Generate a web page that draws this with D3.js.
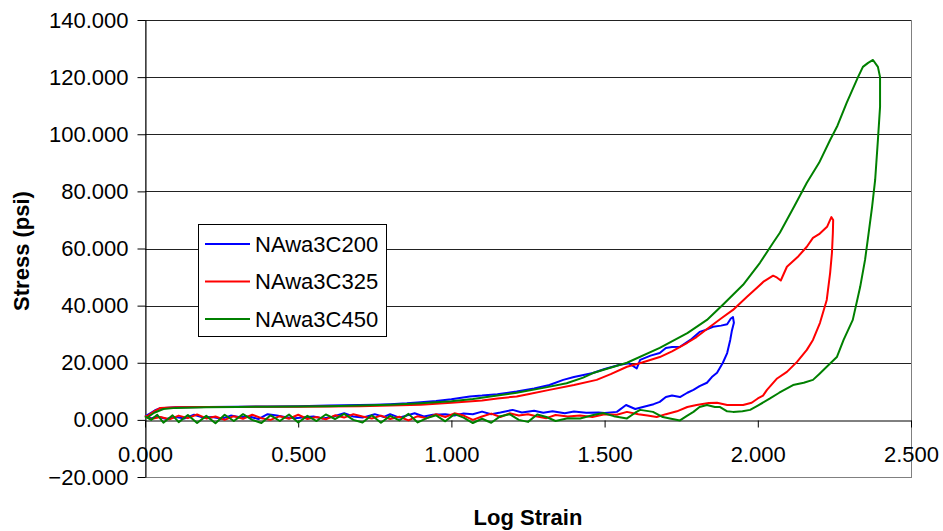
<!DOCTYPE html>
<html>
<head>
<meta charset="utf-8">
<script src="https://cdn.jsdelivr.net/npm/d3@7"></script>
<style>
body { margin: 0; background: #fff; }
#chart text { font-family: Arial, "Liberation Sans", sans-serif; }
</style>
</head>
<body>
<div id="chart"></div>
<script>
// series names, in legend order
var seriesNames = ["NAwa3C200", "NAwa3C325", "NAwa3C450"];
var seriesColors = ["#0000ff", "#ff0000", "#008000"];

// [log strain, stress], traced round each loop
var c200Points = [
	[0,1.5],[0.02,0.5],[0.04,1.2],[0.07,0.3],[0.10,1.0],[0.13,0.5],[0.16,1.8],[0.19,0.8],[0.22,1.0],[0.25,0.4],
	[0.28,1.5],[0.31,0.9],[0.34,1.2],[0.37,0.3],[0.40,2.0],[0.43,1.5],[0.46,0.9],[0.49,0.6],[0.52,0.9],[0.55,1.2],
	[0.58,0.5],[0.61,1.0],[0.65,2.3],[0.68,1.2],[0.71,0.8],[0.75,2.0],[0.78,1.0],[0.80,2.0],[0.83,0.8],[0.88,2.3],
	[0.91,1.2],[0.94,1.8],[0.98,2.0],[1.01,1.5],[1.04,2.2],[1.07,2.0],[1.10,2.9],[1.13,2.0],[1.16,2.6],[1.20,3.5],
	[1.23,2.6],[1.27,3.2],[1.30,2.5],[1.33,3.0],[1.37,2.3],[1.40,2.9],[1.44,2.5],[1.48,2.6],[1.50,2.4],[1.54,2.8],
	[1.57,5.2],[1.60,3.8],[1.625,4.5],[1.66,5.5],[1.68,6.3],[1.70,8.0],[1.72,8.5],[1.746,8.0],[1.77,9.5],[1.79,10.5],
	[1.81,11.8],[1.834,13],[1.85,15],[1.867,16.5],[1.886,20],[1.90,23.4],[1.91,28],[1.915,31],[1.922,34],[1.919,36],
	[1.912,35.5],[1.90,33.5],[1.88,33],[1.854,32.6],[1.83,31.5],[1.81,30.8],[1.78,28],[1.746,25.6],[1.72,25.5],[1.70,25.2],
	[1.68,23.4],[1.65,22.5],[1.616,21],[1.605,18],[1.58,19.8],[1.55,19.3],[1.50,17.8],[1.462,16.4],[1.40,15],[1.365,14],
	[1.32,12.2],[1.27,11],[1.213,9.9],[1.15,9.0],[1.10,8.5],[1.06,8.2],[1.00,7.2],[0.95,6.6],[0.90,6.2],[0.855,5.8],
	[0.80,5.5],[0.75,5.3],[0.70,5.2],[0.60,5.0],[0.50,4.8],[0.40,4.7],[0.30,4.6],[0.20,4.5],[0.10,4.4],[0.05,4.1],
	[0.035,3.5],[0.02,2.5],[0,1.2]
];

var c325Points = [
	[0,1.5],[0.02,0.3],[0.05,1.0],[0.08,0.2],[0.11,1.5],[0.14,0.6],[0.17,1.9],[0.20,0.5],[0.23,1.2],[0.26,0.0],
	[0.29,1.3],[0.32,0.4],[0.35,1.8],[0.38,0.6],[0.41,0.0],[0.44,1.3],[0.47,0.4],[0.50,1.8],[0.53,0.3],[0.56,1.0],
	[0.59,0.2],[0.62,1.6],[0.65,0.8],[0.68,2.0],[0.71,1.2],[0.74,0.5],[0.77,1.5],[0.80,0.3],[0.83,1.1],[0.86,-0.2],
	[0.89,1.3],[0.92,0.6],[0.95,2.0],[0.98,1.0],[1.01,2.3],[1.04,1.5],[1.07,0.0],[1.10,1.2],[1.13,2.2],[1.16,1.0],
	[1.19,2.3],[1.22,1.5],[1.25,2.0],[1.28,1.2],[1.31,0.6],[1.34,1.7],[1.38,1.2],[1.42,1.5],[1.46,1.0],[1.50,2.0],
	[1.54,1.8],[1.573,2.8],[1.61,2.0],[1.64,1.5],[1.67,1.0],[1.70,2.0],[1.736,3.0],[1.77,4.5],[1.80,5.2],[1.84,5.9],
	[1.867,6.0],[1.90,5.2],[1.92,5.2],[1.952,5.2],[1.98,6.0],[2.0,7.5],[2.017,8.5],[2.03,10.5],[2.063,14.5],[2.095,16.8],
	[2.128,20.3],[2.16,24.5],[2.18,28],[2.203,34],[2.225,42],[2.236,51.4],[2.242,58.5],[2.245,65.5],[2.246,70],[2.24,71],
	[2.226,67.6],[2.20,65],[2.18,63.7],[2.16,60.6],[2.13,57],[2.095,53.6],[2.075,48.8],[2.06,50],[2.05,50.5],[2.02,48.5],
	[2.00,46.5],[1.964,43],[1.919,38.5],[1.88,35.5],[1.844,32.6],[1.80,29],[1.77,27],[1.72,24],[1.68,22],[1.62,20],
	[1.573,18.6],[1.52,16],[1.474,14],[1.40,12.2],[1.32,10.5],[1.25,9],[1.213,8.2],[1.15,7.5],[1.10,6.8],[1.0,6.0],
	[0.9,5.3],[0.8,5.0],[0.7,4.8],[0.6,4.7],[0.5,4.6],[0.4,4.6],[0.3,4.5],[0.2,4.5],[0.1,4.4],[0.05,4.2],
	[0.03,3.0],[0.01,1.5],[0,1.0]
];

var c450Points = [
	[0,1.2],[0.02,0.0],[0.04,1.8],[0.06,-1.0],[0.09,1.6],[0.11,-0.8],[0.14,1.7],[0.17,-1.1],[0.20,1.4],[0.23,-1.2],
	[0.26,1.8],[0.29,-0.4],[0.32,2.0],[0.35,0.0],[0.38,-1.1],[0.41,1.6],[0.44,-0.4],[0.47,1.9],[0.50,-0.9],[0.53,1.4],
	[0.56,-0.4],[0.59,1.9],[0.62,0.3],[0.65,2.1],[0.68,0.0],[0.71,-0.9],[0.74,1.6],[0.77,-1.0],[0.80,1.4],[0.83,-0.2],
	[0.86,2.1],[0.89,-0.9],[0.92,0.6],[0.95,1.6],[0.98,-0.5],[1.01,2.0],[1.04,0.8],[1.07,-1.1],[1.10,0.4],[1.13,-1.0],
	[1.16,1.3],[1.19,2.0],[1.22,0.0],[1.25,-0.7],[1.28,1.9],[1.31,1.0],[1.34,-0.4],[1.38,0.6],[1.42,0.5],[1.46,1.6],
	[1.495,2.4],[1.53,1.3],[1.573,0.5],[1.60,2.5],[1.616,3.5],[1.658,2.8],[1.69,1.0],[1.713,0.5],[1.746,-0.2],[1.77,1.5],
	[1.79,2.8],[1.81,4.5],[1.834,5.2],[1.86,4.5],[1.877,4.5],[1.90,3.0],[1.919,2.8],[1.95,3.0],[1.975,3.5],[2.00,5.0],
	[2.04,7.5],[2.07,9.5],[2.115,12.2],[2.15,13.0],[2.18,14],[2.20,16],[2.225,18.6],[2.258,22],[2.28,28],[2.31,35],
	[2.334,46.5],[2.35,56],[2.36,64],[2.373,74.6],[2.383,84],[2.392,98],[2.399,109.6],[2.399,120],[2.392,123.6],[2.376,126],
	[2.36,125],[2.343,123.6],[2.327,120],[2.29,111],[2.26,103],[2.236,98],[2.20,90],[2.16,83],[2.12,75],[2.072,65.5],
	[2.05,62],[2.007,55],[1.952,47.3],[1.886,40.3],[1.834,35],[1.77,30.4],[1.68,25.2],[1.573,20],[1.462,16.4],[1.43,14.8],
	[1.376,12.8],[1.30,11.2],[1.213,9.5],[1.15,8.5],[1.07,7.3],[1.0,6.5],[0.9,5.8],[0.8,5.3],[0.7,5.0],[0.6,4.8],
	[0.5,4.7],[0.4,4.6],[0.3,4.5],[0.2,4.4],[0.1,4.2],[0.06,3.8],[0.03,2.5],[0.01,1.0]
];

var xTicks = [0, 0.5, 1.0, 1.5, 2.0, 2.5];
var yTicks = [-20, 0, 20, 40, 60, 80, 100, 120, 140];

var chart = {
	initialize:function()
	{
		var W = 943, H = 531;
		var left = 145, right = 911, top = 20, bottom = 477;

		var svg = d3.select("#chart")
		.append("svg")
		.attr("width", W)
		.attr("height", H);

		var x = d3.scaleLinear().domain([0, 2.5]).range([left, right]);
		var y = d3.scaleLinear().domain([-20, 140]).range([bottom, top]);

		// plot area frame
		svg.append("rect")
		.attr("x", left + 0.5)
		.attr("y", top + 0.5)
		.attr("width", right - left)
		.attr("height", bottom - top)
		.attr("fill", "#fff")
		.attr("stroke", "#808080")
		.attr("stroke-width", 1);

		// gridlines
		svg.append("g")
		.selectAll("line")
		.data(yTicks.filter(function(d){ return d > 0; }))
		.enter()
		.append("line")
		.attr("x1", left)
		.attr("x2", right)
		.attr("y1", function(d){ return Math.round(y(d)) + 0.5; })
		.attr("y2", function(d){ return Math.round(y(d)) + 0.5; })
		.attr("stroke", "#222")
		.attr("stroke-width", 1);

		var yAxis = d3.axisLeft(y)
		.tickValues(yTicks)
		.tickFormat(d3.format(".3f"))
		.tickSize(8)
		.tickSizeOuter(0)
		.tickPadding(9);

		var gy = svg.append("g")
		.attr("transform", "translate(" + (left + 0.5) + ",0)")
		.call(yAxis);

		var xAxis = d3.axisBottom(x)
		.tickValues(xTicks)
		.tickFormat(d3.format(".3f"))
		.tickSize(7)
		.tickSizeOuter(0)
		.tickPadding(19);

		var gx = svg.append("g")
		.attr("transform", "translate(0," + (Math.round(y(0)) + 0.5) + ")")
		.call(xAxis);

		[gx, gy].forEach(function(g)
		{
			g.selectAll("path, line").attr("stroke", "#000");
			g.selectAll("text")
			.attr("fill", "#000")
			.style("font-size", "22px");
		});

		// series
		var line = d3.line()
		.x(function(d){ return x(d[0]); })
		.y(function(d){ return y(d[1]); });

		var allPoints = [c200Points, c325Points, c450Points];
		svg.append("g")
		.selectAll("path")
		.data(allPoints)
		.enter()
		.append("path")
		.attr("d", line)
		.attr("fill", "none")
		.attr("stroke", function(d, i){ return seriesColors[i]; })
		.attr("stroke-width", 2)
		.attr("stroke-linejoin", "round");

		// legend
		var lg = svg.append("g");
		lg.append("rect")
		.attr("x", 198.5)
		.attr("y", 224.5)
		.attr("width", 188)
		.attr("height", 112)
		.attr("fill", "#fff")
		.attr("stroke", "#000");

		var rows = lg.selectAll("g.row")
		.data(seriesNames)
		.enter()
		.append("g")
		.attr("class", "row")
		.attr("transform", function(d, i){ return "translate(0," + (244 + i*37.5) + ")"; });

		rows.append("line")
		.attr("x1", 205)
		.attr("x2", 250)
		.attr("y1", 0)
		.attr("y2", 0)
		.attr("stroke", function(d, i){ return seriesColors[i]; })
		.attr("stroke-width", 2);

		rows.append("text")
		.attr("x", 255)
		.attr("y", 0)
		.attr("dy", "0.35em")
		.style("font-size", "22px")
		.text(function(d){ return d; });

		// axis titles
		svg.append("text")
		.attr("transform", "translate(29,251) rotate(-90)")
		.attr("text-anchor", "middle")
		.style("font-size", "22px")
		.style("font-weight", "bold")
		.text("Stress (psi)");

		svg.append("text")
		.attr("x", 528)
		.attr("y", 525)
		.attr("text-anchor", "middle")
		.style("font-size", "22px")
		.style("font-weight", "bold")
		.text("Log Strain");
	}
};

chart.initialize();
</script>
</body>
</html>
